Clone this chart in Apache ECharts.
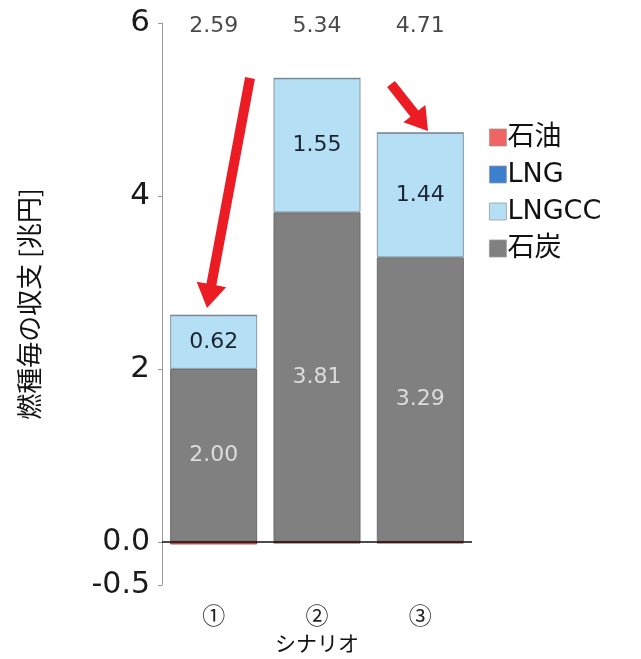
<!DOCTYPE html>
<html>
<head>
<meta charset="utf-8">
<script src="https://cdn.jsdelivr.net/npm/echarts@6/dist/echarts.min.js"></script>
<style>
  html, body { margin: 0; padding: 0; background: #fff; }
  #chart { width: 641px; height: 659px; }
</style>
</head>
<body>
<div id="chart"></div>
<script>
// Scenario categories and per-fuel balances [trillion yen]
const scenarios = ['①', '②', '③'];
const coal = [2.00, 3.81, 3.29];
const lngcc = [0.62, 1.55, 1.44];
const lng = [0, 0, 0];
const oil = [-0.03, -0.02, -0.02];
const totals = [2.59, 5.34, 4.71];
const yTicks = [-0.5, 0, 2, 4, 6];

const FONT = '"DejaVu Sans", "Noto Sans CJK JP", sans-serif';
const JP = '"Noto Sans CJK JP", "DejaVu Sans", sans-serif';

// Filled arrow polygon from tail to tip
function arrowPoints(x1, y1, x2, y2, shaftW, headW, headL) {
  const dx = x2 - x1, dy = y2 - y1;
  const len = Math.hypot(dx, dy);
  const ux = dx / len, uy = dy / len;
  const nx = -uy, ny = ux;
  const bx = x2 - ux * headL, by = y2 - uy * headL;
  const s = shaftW / 2, h = headW / 2;
  return [
    [x1 + nx * s, y1 + ny * s],
    [bx + nx * s, by + ny * s],
    [bx + nx * h, by + ny * h],
    [x2, y2],
    [bx - nx * h, by - ny * h],
    [bx - nx * s, by - ny * s],
    [x1 - nx * s, y1 - ny * s]
  ];
}

const chart = echarts.init(document.getElementById('chart'));

const segLabelDark = {
  show: true, position: 'inside', color: '#1b2430',
  fontSize: 22, fontFamily: FONT,
  formatter: p => p.value.toFixed(2)
};
const segLabelLight = Object.assign({}, segLabelDark, { color: '#dcdcdc' });

chart.setOption({
  animation: false,
  backgroundColor: '#ffffff',
  grid: { left: 162, right: 169, top: 23, bottom: 74 },
  legend: {
    orient: 'vertical',
    left: 484, top: 119,
    itemWidth: 17, itemHeight: 17, itemGap: 10,
    icon: 'rect',
    data: ['石油', 'LNG', 'LNGCC', '石炭'],
    itemStyle: { borderColor: '#9a9a9a', borderWidth: 0.8 },
    textStyle: { fontSize: 27, fontFamily: FONT, color: '#111', padding: [0, 0, 0, -4] }
  },
  xAxis: {
    type: 'category',
    data: scenarios,
    axisLine: { show: false, onZero: false },
    axisTick: { show: false },
    axisLabel: { margin: 19, fontSize: 23, color: '#222', fontFamily: JP },
    name: 'シナリオ',
    nameLocation: 'middle',
    nameGap: 48,
    nameTextStyle: { fontSize: 21, color: '#111', fontFamily: JP }
  },
  yAxis: {
    type: 'value',
    min: -0.5, max: 6,
    splitLine: { show: false },
    axisLine: { show: true, lineStyle: { color: '#9a9a9a', width: 1 } },
    axisTick: { show: true, length: 4, customValues: yTicks, lineStyle: { color: '#9a9a9a' } },
    axisLabel: {
      customValues: yTicks,
      margin: 12,
      fontFamily: FONT,
      color: '#1a1a1a',
      formatter: v => (v === 0 ? '{s|0.0}' : v === -0.5 ? '{s|-0.5}' : '{b|' + v + '}'),
      rich: {
        b: { fontSize: 31, fontFamily: FONT, color: '#1a1a1a' },
        s: { fontSize: 30, fontFamily: FONT, color: '#1a1a1a' }
      }
    },
    name: '燃種毎の収支 [兆円]',
    nameLocation: 'middle',
    nameGap: 120,
    nameTextStyle: { fontSize: 26, color: '#111', fontFamily: JP }
  },
  series: [
    {
      name: '石炭', type: 'bar', stack: 'fuel', barWidth: 87,
      data: coal,
      itemStyle: { color: '#808080', borderColor: '#6a6a6a', borderWidth: 1 },
      label: segLabelLight,
      markLine: {
        silent: true, symbol: 'none',
        label: { show: false },
        lineStyle: { color: '#111', width: 1.5, type: 'solid' },
        data: [{ yAxis: 0 }]
      }
    },
    {
      name: 'LNGCC', type: 'bar', stack: 'fuel', barWidth: 87,
      data: lngcc,
      itemStyle: { color: '#b5dff5', borderColor: '#8797a3', borderWidth: 1 },
      label: segLabelDark
    },
    {
      name: 'LNG', type: 'bar', stack: 'fuel', barWidth: 87,
      data: lng,
      itemStyle: { color: '#3c7fcf', borderColor: '#5a6f85', borderWidth: 0.5 }
    },
    {
      name: '石油', type: 'bar', stack: 'fuel', barWidth: 87,
      data: oil,
      itemStyle: { color: '#f06464', borderColor: '#8a2b2b', borderWidth: 0.8 }
    },
    {
      // scenario totals printed along the top of the plot
      name: 'total', type: 'scatter',
      data: totals.map((t, i) => [i, 6]),
      symbolSize: 0,
      silent: true,
      label: {
        show: true, position: 'inside', offset: [0, 3],
        fontSize: 22, fontFamily: FONT, color: '#1a1a1a',
        formatter: p => totals[p.dataIndex].toFixed(2)
      }
    }
  ],
  graphic: [
    {
      type: 'polygon', silent: true,
      shape: { points: arrowPoints(250, 78, 207, 308, 10, 30, 24) },
      style: { fill: '#ec1c24' }
    },
    {
      type: 'polygon', silent: true,
      shape: { points: arrowPoints(391, 84, 428, 131, 10, 28, 22) },
      style: { fill: '#ec1c24' }
    }
  ]
});
</script>
</body>
</html>
